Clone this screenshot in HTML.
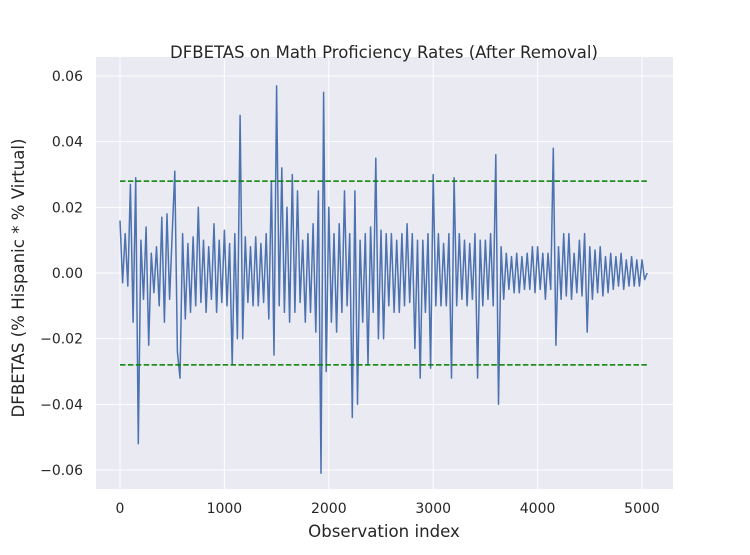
<!DOCTYPE html>
<html><head><meta charset="utf-8"><style>
body{margin:0;background:#fff;}
svg text{font-family:"DejaVu Sans","Liberation Sans",sans-serif;fill:#262626;}
</style></head><body>
<svg id="chart" width="750" height="550" xmlns="http://www.w3.org/2000/svg">
<rect x="96" y="57" width="577" height="432" fill="#eaeaf2"/>
<g id="grid"></g>
<g id="marks"></g>
<g id="ticks"></g>
<text x="384" y="58" text-anchor="middle" font-size="16.5">DFBETAS on Math Proficiency Rates (After Removal)</text>
<text x="384" y="537" text-anchor="middle" font-size="16.6">Observation index</text>
<text transform="translate(24,278) rotate(-90)" text-anchor="middle" font-size="16.6">DFBETAS (% Hispanic * % Virtual)</text>
</svg>
<script>
const step = 25;
const values = [
0.016,-0.003,0.012,-0.004,
0.027,-0.015,0.029,-0.052,
0.01,-0.008,0.014,-0.022,
0.006,-0.006,0.008,-0.01,
0.017,-0.015,0.018,-0.008,
0.012,0.031,-0.024,-0.032,
0.012,-0.014,0.009,-0.012,
0.011,-0.01,0.02,-0.009,
0.01,-0.012,0.008,-0.008,
0.015,-0.012,0.01,-0.009,
0.013,-0.01,0.009,-0.028,
0.012,-0.02,0.048,-0.02,
0.011,-0.009,0.008,-0.01,
0.011,-0.01,0.009,-0.009,
0.012,-0.014,0.028,-0.025,
0.057,-0.01,0.032,-0.012,
0.02,-0.015,0.03,-0.012,
0.025,-0.009,0.01,-0.015,
0.012,-0.012,0.015,-0.018,
0.025,-0.061,0.055,-0.03,
0.02,-0.015,0.012,-0.018,
0.015,-0.012,0.025,-0.01,
0.012,-0.044,0.025,-0.04,
0.01,-0.015,0.012,-0.028,
0.014,-0.012,0.035,-0.02,
0.013,-0.02,0.012,-0.01,
0.012,-0.012,0.01,-0.012,
0.012,-0.01,0.015,-0.009,
0.012,-0.023,0.01,-0.032,
0.01,-0.012,0.012,-0.029,
0.03,-0.01,0.012,-0.01,
0.009,-0.01,0.012,-0.032,
0.029,-0.01,0.012,-0.008,
0.01,-0.01,0.009,-0.008,
0.012,-0.032,0.01,-0.01,
0.01,-0.008,0.012,-0.01,
0.036,-0.04,0.008,-0.008,
0.006,-0.005,0.005,-0.006,
0.006,-0.006,0.005,-0.005,
0.006,-0.005,0.008,-0.006,
0.008,-0.005,0.006,-0.008,
0.006,-0.005,0.038,-0.022,
0.008,-0.008,0.012,-0.007,
0.012,-0.008,0.006,-0.006,
0.01,-0.007,0.012,-0.018,
0.008,-0.008,0.007,-0.006,
0.008,-0.007,0.005,-0.006,
0.006,-0.005,0.005,-0.004,
0.006,-0.005,0.004,-0.004,
0.005,-0.004,0.004,-0.004,
0.004,-0.002,0.0];
const threshold = 0.028;
const thresholdEnd = 5070;
const xTicks = [0,1000,2000,3000,4000,5000];
const yTicks = [-0.06,-0.04,-0.02,0,0.02,0.04,0.06];

const NS="http://www.w3.org/2000/svg";
const xs = v => 120 + v*(522/5000);
const ys = v => 273 - v*3283;
function mk(tag, attrs, parent){const e=document.createElementNS(NS,tag);for(const k in attrs)e.setAttribute(k,attrs[k]);parent.appendChild(e);return e;}
const grid=document.getElementById('grid'), marks=document.getElementById('marks'), ticks=document.getElementById('ticks');
xTicks.forEach(t=>{
  const l=mk('line',{x1:xs(t),x2:xs(t),y1:57,y2:489,stroke:'#fff','stroke-width':1},grid);
  
  
  const tx=mk('text',{x:xs(t),y:513,'text-anchor':'middle','font-size':14},ticks);
  tx.textContent=String(t);
  
  
});
yTicks.forEach(t=>{
  const l=mk('line',{x1:96,x2:673,y1:ys(t),y2:ys(t),stroke:'#fff','stroke-width':1},grid);
  
  
  const tx=mk('text',{x:83,y:ys(t)+5,'text-anchor':'end','font-size':14},ticks);
  tx.textContent=(t<0?'\u2212':'')+Math.abs(t).toFixed(2);
  
  
});
const pts=values.map((v,i)=>xs(i*step).toFixed(1)+','+ys(v).toFixed(1)).join(' ');
const line=mk('polyline',{points:pts,fill:'none',stroke:'#4c72b0','stroke-width':1.5,'stroke-linejoin':'round'},marks);


[threshold,-threshold].forEach(t=>{
  const l=mk('line',{x1:xs(0),x2:xs(thresholdEnd),y1:ys(t),y2:ys(t),stroke:'#008000','stroke-width':1.5,'stroke-dasharray':'5.5,2.4'},marks);
  
  
});
</script>
</body></html>
